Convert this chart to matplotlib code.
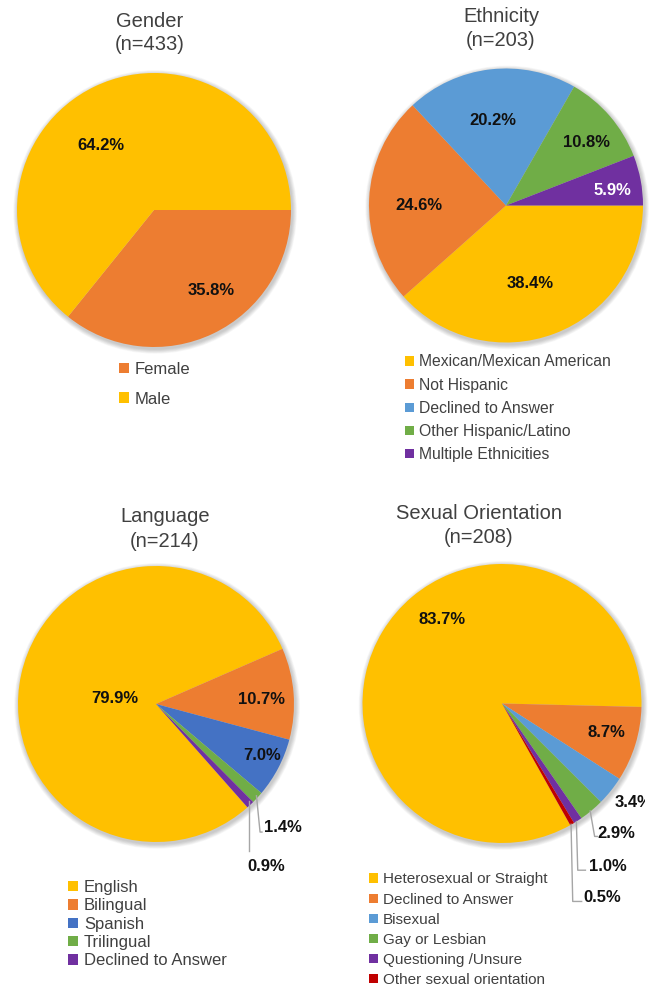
import matplotlib
matplotlib.use("Agg")
import matplotlib.pyplot as plt
from matplotlib.patches import Circle
from matplotlib.transforms import Bbox

# ---------------- data ----------------
gender_labels = ["Female", "Male"]
gender_values = [35.8, 64.2]

ethnicity_labels = ["Mexican/Mexican American", "Not Hispanic", "Declined to Answer",
                    "Other Hispanic/Latino", "Multiple Ethnicities"]
ethnicity_values = [38.4, 24.6, 20.2, 10.8, 5.9]

language_labels = ["English", "Bilingual", "Spanish", "Trilingual", "Declined to Answer"]
language_values = [79.9, 10.7, 7.0, 1.4, 0.9]

orientation_labels = ["Heterosexual or Straight", "Declined to Answer", "Bisexual",
                      "Gay or Lesbian", "Questioning /Unsure", "Other sexual orientation"]
orientation_values = [83.7, 8.7, 3.4, 2.9, 1.0, 0.5]

# ---------------- styling ----------------
GOLD, ORANGE, LBLUE, GREEN, PURPLE = "#FFC000", "#ED7D31", "#5B9BD5", "#70AD47", "#7030A0"
DBLUE, DRED = "#4472C4", "#C00000"
TITLE_C = "#404040"
LABEL_C = "#111111"
LEAD_C = "#A6A6A6"
FONT = "Liberation Sans"
plt.rcParams["font.family"] = [FONT, "DejaVu Sans"]

W, H = 658, 986
fig = plt.figure(figsize=(W / 100, H / 100), dpi=100)
fig.patch.set_facecolor("white")


def pie_axes(cx, cy, r):
    """Square axes whose unit circle sits at pixel centre (cx, cy) with radius r."""
    return fig.add_axes([(cx - r) / W, (H - cy - r) / H, 2 * r / W, 2 * r / H])


def soft_shadow(ax):
    # soft grey halo under the pie, nudged slightly down and right
    for k in range(7, 0, -1):
        ax.add_patch(Circle((0.008, -0.014), 1 + 0.005 * k, facecolor="#000000",
                            edgecolor="none", alpha=0.03, zorder=0, clip_on=False))


def finish(ax):
    ax.set_xlim(-1, 1)
    ax.set_ylim(-1, 1)
    ax.set_aspect("equal")
    ax.axis("off")


def title(x, y1, y2, line1, line2):
    fig.text(x / W, 1 - y1 / H, line1, ha="center", va="baseline",
             fontsize=14.5, color=TITLE_C)
    fig.text(x / W, 1 - y2 / H, line2, ha="center", va="baseline",
             fontsize=14.5, color=TITLE_C)


def legend(ax, wedges, labels, left, top, fs, spacing, hsize):
    ax.legend(wedges, labels, loc="upper left",
              bbox_to_anchor=(left / W, 1 - top / H), bbox_transform=fig.transFigure,
              frameon=False, fontsize=fs, handlelength=hsize, handleheight=hsize,
              handletextpad=0.35, labelspacing=spacing, borderpad=0, borderaxespad=0,
              labelcolor=TITLE_C)


def value_labels(ax, values, positions, colors=None, ha=None):
    texts = []
    for i, (v, (x, y)) in enumerate(zip(values, positions)):
        c = colors[i] if colors else LABEL_C
        a = ha[i] if ha else "center"
        texts.append(ax.text(x, y, f"{v:.1f}%", ha=a, va="center", fontsize=12,
                             fontweight="bold", color=c, zorder=5))
    return texts


def draw_pie(ax, values, colors, start):
    soft_shadow(ax)
    wedges, _ = ax.pie(values, colors=colors, startangle=start,
                       counterclock=False, radius=1,
                       wedgeprops=dict(zorder=2))
    finish(ax)
    return wedges


# ---------------- Gender ----------------
ax = pie_axes(154, 210, 137)
w = draw_pie(ax, gender_values, [ORANGE, GOLD], 0)
value_labels(ax, gender_values, [(0.416, -0.591), (-0.387, 0.474)])
title(150, 26.7, 50, "Gender", "(n=433)")
legend(ax, w, gender_labels, 119, 362, 12, 0.88, 0.6)

# ---------------- Ethnicity ----------------
ax = pie_axes(506, 205.5, 137)
w = draw_pie(ax, ethnicity_values, [GOLD, ORANGE, LBLUE, GREEN, PURPLE], 0)
value_labels(ax, ethnicity_values,
             [(0.175, -0.568), (-0.633, 0.0), (-0.093, 0.624), (0.584, 0.461), (0.779, 0.113)],
             colors=[LABEL_C, LABEL_C, LABEL_C, LABEL_C, "white"])
title(501, 21.7, 46, "Ethnicity", "(n=203)")
legend(ax, w, ethnicity_labels, 405, 354.5, 11.3, 0.52, 0.55)

# ---------------- Language ----------------
ax = pie_axes(156, 704, 138)
w = draw_pie(ax, language_values, [GOLD, ORANGE, DBLUE, GREEN, PURPLE], 311.5)
value_labels(ax, language_values[:3], [(-0.302, 0.041), (0.766, 0.034), (0.770, -0.370)])
value_labels(ax, language_values[3:], [(0.923, -0.896), (0.802, -1.179)])
# leader lines for the thin slices
ax.plot([0.728, 0.754, 0.768], [-0.665, -0.928, -0.928], color=LEAD_C, lw=1, clip_on=False)
ax.plot([0.674, 0.674], [-0.70, -1.062], color=LEAD_C, lw=1, clip_on=False)
title(165, 522.3, 546.7, "Language", "(n=214)")
legend(ax, w, language_labels, 68, 880, 12, 0.2, 0.6)

# ---------------- Sexual Orientation ----------------
ax = pie_axes(502, 703.5, 139.5)
w = draw_pie(ax, orientation_values, [GOLD, ORANGE, LBLUE, GREEN, PURPLE, DRED], 299.3)
value_labels(ax, orientation_values[:2], [(-0.428, 0.604), (0.750, -0.209)])
t34 = value_labels(ax, orientation_values[2:3], [(0.810, -0.711)], ha=["left"])[0]
value_labels(ax, orientation_values[3:], [(0.822, -0.930), (0.762, -1.165), (0.722, -1.389)])
ax.plot([0.632, 0.664, 0.683], [-0.77, -0.953, -0.953], color=LEAD_C, lw=1, clip_on=False)
ax.plot([0.533, 0.543, 0.598], [-0.846, -1.195, -1.195], color=LEAD_C, lw=1, clip_on=False)
ax.plot([0.495, 0.507, 0.571], [-0.866, -1.419, -1.419], color=LEAD_C, lw=1, clip_on=False)
title(479, 519.3, 543.3, "Sexual Orientation", "(n=208)")
legend(ax, w, orientation_labels, 369, 872.5, 11.0, 0.40, 0.56)

# the panel is trimmed just past the right pie edge
t34.set_clip_on(True)
t34.set_clip_box(Bbox.from_extents(0, 0, 645, H))

fig.savefig("out.png", dpi=100, facecolor="white")
